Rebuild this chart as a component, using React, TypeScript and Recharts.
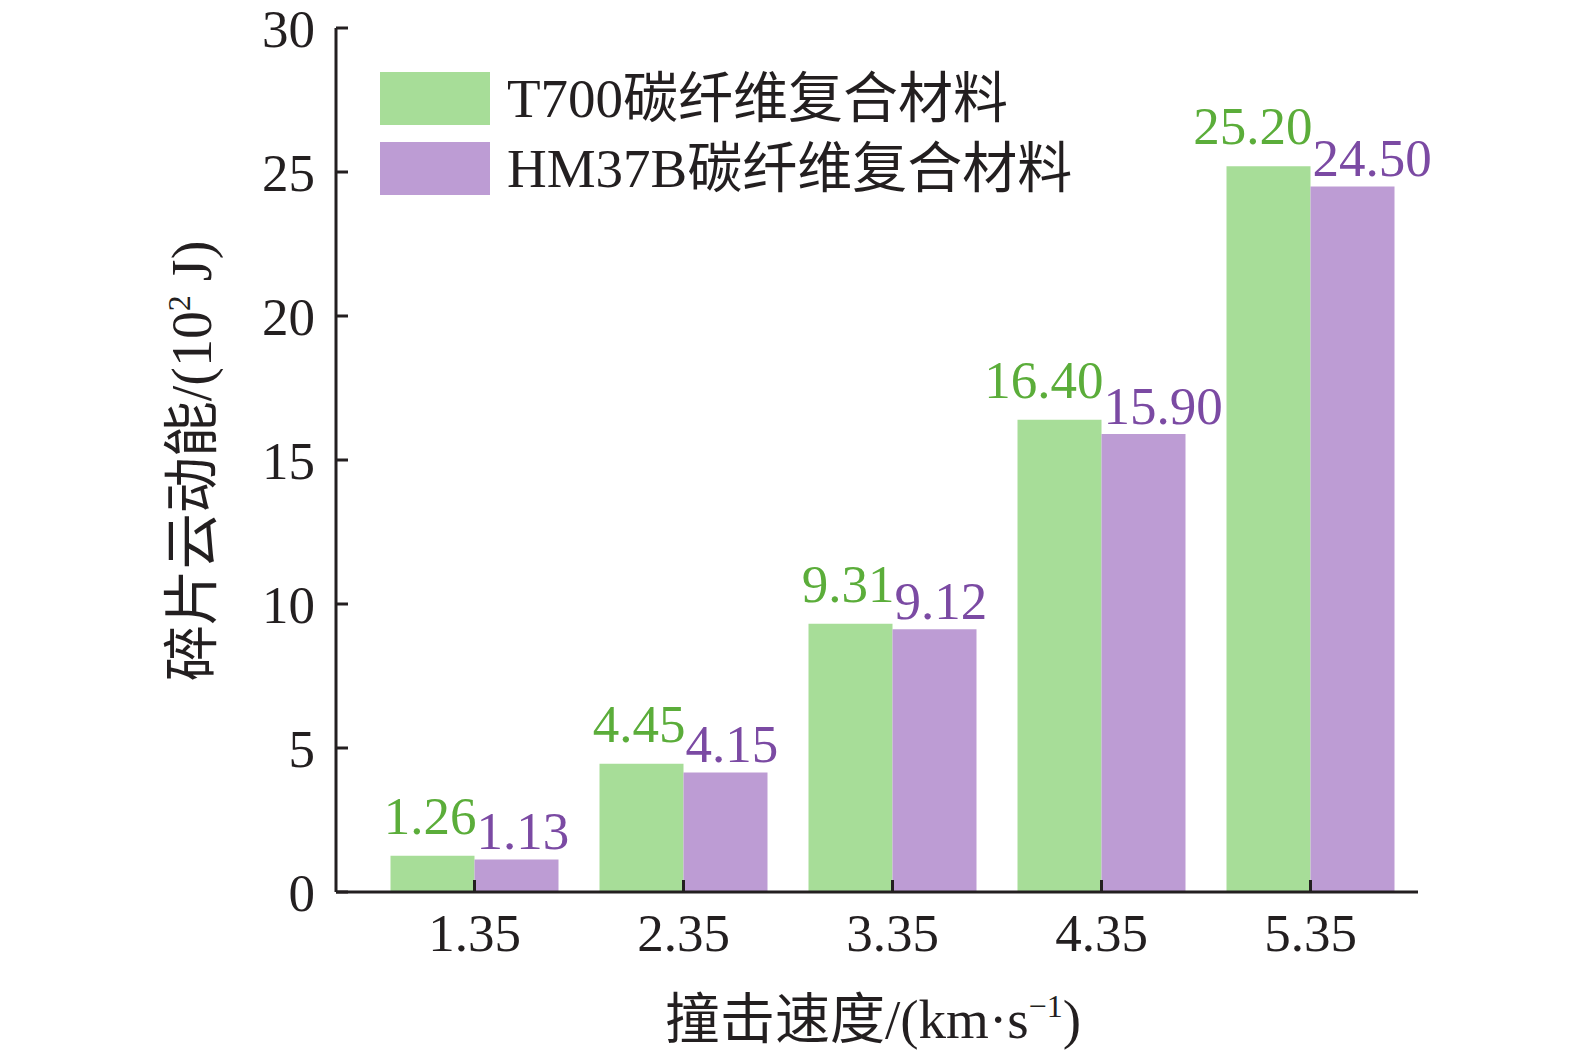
import React from 'react';
import { BarChart, Bar, XAxis, YAxis, Legend, LabelList, Label } from 'recharts';

const speeds = ['1.35', '2.35', '3.35', '4.35', '5.35'];
const t700Values = [1.26, 4.45, 9.31, 16.4, 25.2];
const hm37bValues = [1.13, 4.15, 9.12, 15.9, 24.5];
const t700Labels = ['1.26', '4.45', '9.31', '16.40', '25.20'];
const hm37bLabels = ['1.13', '4.15', '9.12', '15.90', '24.50'];
const yTicks = [0, 5, 10, 15, 20, 25, 30];

const seriesNames = ['T700碳纤维复合材料', 'HM37B碳纤维复合材料'];
const GREEN = '#A7DD98';
const PURPLE = '#BD9CD4';
const GREEN_TEXT = '#5BAD3A';
const PURPLE_TEXT = '#7B4AA3';
const AXIS = '#231F20';
const FONT = "'Liberation Serif', 'Times New Roman', 'Noto Sans CJK SC', serif";

const data = speeds.map((s, i) => ({
  speed: s,
  t700: t700Values[i],
  hm37b: hm37bValues[i],
  t700Label: t700Labels[i],
  hm37bLabel: hm37bLabels[i],
}));

const GreenLabel = (props: any) => {
  const { x, y, width, value } = props;
  return (
    <text x={x + width + 2} y={y - 22} textAnchor="end" fill={GREEN_TEXT} fontSize={53} fontFamily={FONT}>
      {value}
    </text>
  );
};

const PurpleLabel = (props: any) => {
  const { x, y, value } = props;
  return (
    <text x={x + 2} y={y - 10} textAnchor="start" fill={PURPLE_TEXT} fontSize={53} fontFamily={FONT}>
      {value}
    </text>
  );
};

const LegendContent = () => {
  const colors = [GREEN, PURPLE];
  return (
    <div style={{ fontFamily: FONT, fontSize: 55, color: '#231F20' }}>
      {seriesNames.map((n, i) => (
        <div key={n} style={{ display: 'flex', alignItems: 'center', height: 53, marginBottom: i === 0 ? 17 : 0 }}>
          <div style={{ width: 110, height: 53, background: colors[i], marginRight: 17, flex: 'none' }} />
          <span style={{ lineHeight: '53px', whiteSpace: 'nowrap' }}>{n}</span>
        </div>
      ))}
    </div>
  );
};

export default function App() {
  return (
    <div style={{ position: 'relative', left: -8, top: -8, width: 1575, height: 1056, background: '#fff' }}>
      <BarChart
        width={1575}
        height={1056}
        data={data}
        margin={{ top: 28, right: 157, bottom: 104, left: 256 }}
        barCategoryGap={20.5}
        barGap={0}
      >
        <XAxis
          dataKey="speed"
          height={60}
          padding={{ left: 34, right: 3 }}
          axisLine={{ stroke: AXIS, strokeWidth: 3 }}
          tickLine={{ stroke: AXIS, strokeWidth: 3 }}
          tickSize={-12}
          tickMargin={33}
          tick={{ fill: '#231F20', fontSize: 53, fontFamily: FONT }}
          interval={0}
        >
          <Label
            content={() => (
              <text x={873} y={1038} textAnchor="middle" fill="#231F20" fontSize={55} fontFamily={FONT}>
                撞击速度/(km·s
                <tspan dy={-21} fontSize={32}>−1</tspan>
                <tspan dy={21}>)</tspan>
              </text>
            )}
          />
        </XAxis>
        <YAxis
          width={80}
          domain={[0, 30]}
          ticks={yTicks}
          interval={0}
          axisLine={{ stroke: AXIS, strokeWidth: 3 }}
          tickLine={{ stroke: AXIS, strokeWidth: 3 }}
          tickSize={-12}
          tickMargin={33}
          tick={{ fill: '#231F20', fontSize: 53, fontFamily: FONT }}
        >
          <Label
            content={() => (
              <text
                transform="translate(211, 461) rotate(-90)"
                x={0}
                y={0}
                textAnchor="middle"
                fill="#231F20"
                fontSize={56}
                fontFamily={FONT}
              >
                碎片云动能/(10
                <tspan dy={-21} fontSize={32}>2</tspan>
                <tspan dy={21}> J)</tspan>
              </text>
            )}
          />
        </YAxis>
        <Legend
          layout="vertical"
          align="center"
          verticalAlign="middle"
          content={LegendContent}
          wrapperStyle={{ left: 380, top: 72, width: 800 }}
        />
        <Bar dataKey="t700" name={seriesNames[0]} fill={GREEN} isAnimationActive={false}>
          <LabelList dataKey="t700Label" content={GreenLabel} />
        </Bar>
        <Bar dataKey="hm37b" name={seriesNames[1]} fill={PURPLE} isAnimationActive={false}>
          <LabelList dataKey="hm37bLabel" content={PurpleLabel} />
        </Bar>
      </BarChart>
    </div>
  );
}
